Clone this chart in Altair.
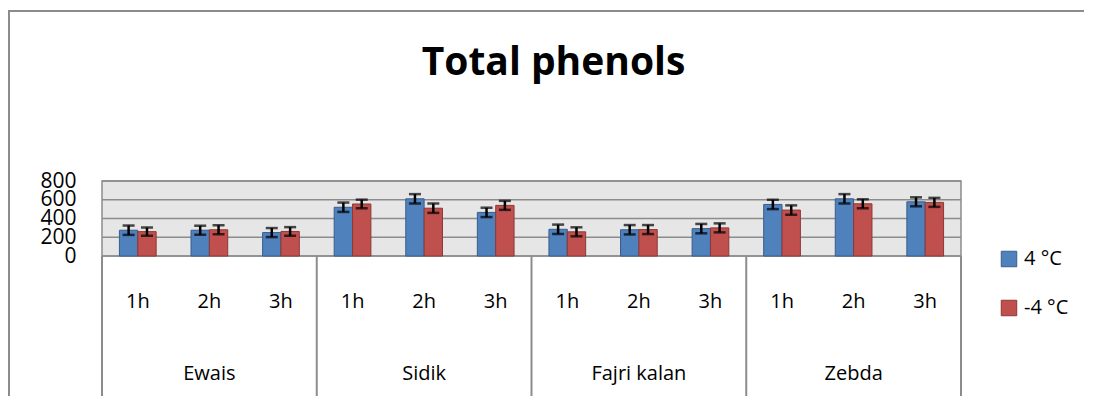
import altair as alt
import pandas as pd

groups = ["Ewais", "Sidik", "Fajri kalan", "Zebda"]
hours = ["1h", "2h", "3h"]
series = ["4 °C", "-4 °C"]

vals_4 = [275, 275, 250, 520, 610, 465, 285, 280, 292, 550, 610, 578]
vals_m4 = [260, 280, 262, 555, 510, 540, 258, 282, 300, 490, 557, 572]
err_4 = [50, 48, 48, 50, 50, 50, 50, 50, 50, 50, 50, 48]
err_m4 = [44, 48, 46, 46, 50, 48, 48, 48, 48, 50, 48, 48]

y_ticks = [0, 200, 400, 600, 800]

cats = [f"{g}|{h}" for g in groups for h in hours]

rows = []
for i, c in enumerate(cats):
    rows.append({"cat": c, "series": series[0], "value": vals_4[i],
                 "lo": vals_4[i] - err_4[i], "hi": vals_4[i] + err_4[i]})
    rows.append({"cat": c, "series": series[1], "value": vals_m4[i],
                 "lo": vals_m4[i] - err_m4[i], "hi": vals_m4[i] + err_m4[i]})
df = pd.DataFrame(rows)

grp_df = pd.DataFrame({"cat": [f"{g}|2h" for g in groups], "label": groups})
sep_df = pd.DataFrame({"cat": [f"{g}|1h" for g in groups]})
end_df = pd.DataFrame({"cat": [cats[-1]]})
grid_df = pd.DataFrame({"v": y_ticks})

FONT = "Open Sans"
PW, PH = 859, 75
PAD = {"left": 94, "top": 173, "right": 123, "bottom": 140}

xscale = alt.Scale(domain=cats, paddingInner=0, paddingOuter=0)
xoff = alt.XOffset("series:N", sort=series,
                   scale=alt.Scale(domain=series, paddingInner=0, paddingOuter=0.95))
yscale = alt.Scale(domain=[0, 800], nice=False)

x_axis = alt.Axis(title=None, labelExpr="split(datum.label, '|')[1]",
                  labelAngle=0, ticks=False, domain=False, grid=False,
                  labelOverlap=False,
                  labelFontSize=20, labelFont=FONT, labelColor="black",
                  labelPadding=35)
y_axis = alt.Axis(title=None, values=y_ticks, ticks=False, domain=False,
                  grid=False, labelOverlap=False,
                  labelFontSize=21, labelFont=FONT, labelColor="black",
                  labelPadding=26)


def X(band=None):
    if band is None:
        return alt.X("cat:N", sort=cats, scale=xscale, axis=x_axis)
    return alt.X("cat:N", sort=cats, scale=xscale, axis=x_axis, bandPosition=band)


def Y(field):
    return alt.Y(field, scale=yscale, axis=y_axis, title=None)


leg = alt.Legend(title=None, orient="none", legendX=897, legendY=68,
                 symbolType="square", symbolSize=240,
                 symbolStrokeWidth=1, labelFontSize=20,
                 labelFont=FONT, labelColor="black",
                 labelOffset=5, rowPadding=29, padding=0)

gridlines = alt.Chart(grid_df).mark_rule(color="#8C8C8C", strokeWidth=1.5).encode(
    y=Y("v:Q"),
)

base = alt.Chart(df)

bars = base.mark_bar(strokeWidth=1).encode(
    x=X(),
    xOffset=xoff,
    y=Y("value:Q"),
    fill=alt.Fill("series:N", sort=series,
                  scale=alt.Scale(domain=series, range=["#4F81BD", "#C0504D"]),
                  legend=leg),
    stroke=alt.Stroke("series:N", sort=series,
                      scale=alt.Scale(domain=series, range=["#385D8A", "#8C3836"]),
                      legend=leg),
)

err_rule = base.mark_rule(color="black", strokeWidth=2.5).encode(
    x=X(),
    xOffset=xoff,
    y=Y("lo:Q"),
    y2="hi:Q",
)
cap_lo = base.mark_tick(color="black", thickness=2.5, size=12).encode(
    x=X(),
    xOffset=xoff,
    y=Y("lo:Q"),
)
cap_hi = base.mark_tick(color="black", thickness=2.5, size=12).encode(
    x=X(),
    xOffset=xoff,
    y=Y("hi:Q"),
)

grp_text = alt.Chart(grp_df).mark_text(fontSize=20, font=FONT, color="black",
                                       baseline="alphabetic").encode(
    x=X(),
    y=alt.value(199),
    text="label:N",
)

sep_rules = alt.Chart(sep_df).mark_rule(color="#8C8C8C", strokeWidth=2).encode(
    x=X(0),
    y=alt.value(PH),
    y2=alt.value(PH + 150),
)
end_rule = alt.Chart(end_df).mark_rule(color="#8C8C8C", strokeWidth=2).encode(
    x=X(1),
    y=alt.value(PH),
    y2=alt.value(PH + 150),
)

frame_left = alt.Chart(end_df).mark_rule(color="#8C8C8C", strokeWidth=2).encode(
    x=alt.value(-93), y=alt.value(-170), y2=alt.value(PH + 200))
frame_top = alt.Chart(end_df).mark_rule(color="#8C8C8C", strokeWidth=2).encode(
    x=alt.value(-94), x2=alt.value(PW + 130), y=alt.value(-170))

chart = alt.layer(gridlines, bars, err_rule, cap_lo, cap_hi, grp_text, sep_rules, end_rule,
                  frame_left, frame_top).resolve_scale(
    fill="independent", stroke="independent"
).properties(
    width=PW, height=PH,
    title=alt.TitleParams("Total phenols", font=FONT, fontSize=39, fontWeight="bold",
                          color="black", anchor="middle", dx=22, offset=-73),
    autosize=alt.AutoSizeParams(type="none"),
    padding=PAD,
).configure_view(
    fill="#E6E6E6", stroke="#8C8C8C", strokeWidth=1.5
).configure_axis(
    labelOverlap=False
)

chart.save("out.html", embed_options={"renderer": "svg", "actions": False})
